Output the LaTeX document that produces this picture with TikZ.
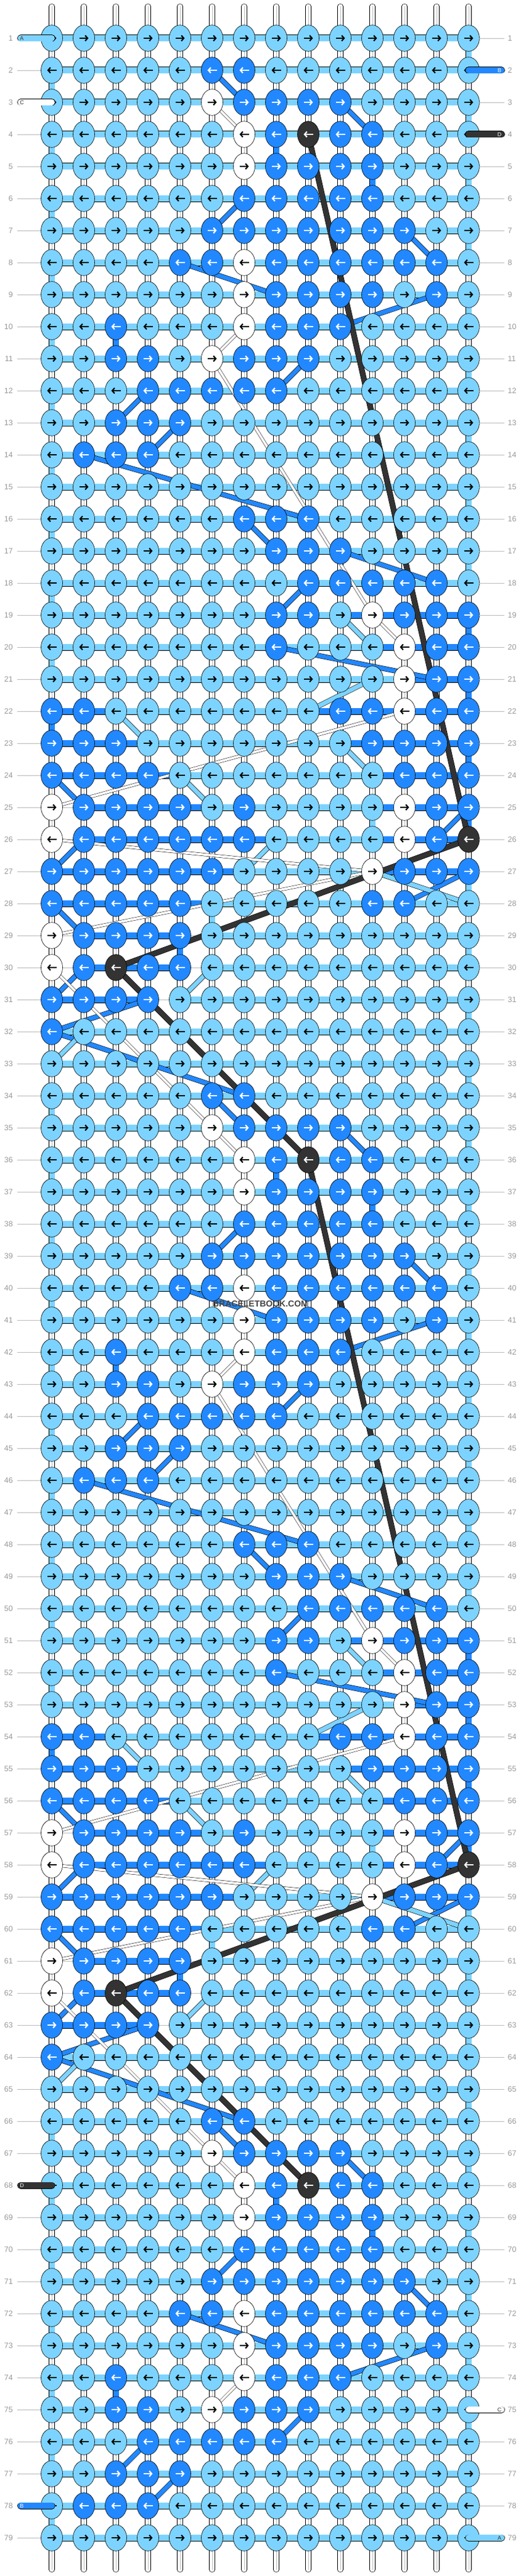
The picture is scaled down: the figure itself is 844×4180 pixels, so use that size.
\documentclass[tikz,border=0pt]{standalone}
\usepackage{fontspec}
\setmainfont{Liberation Sans}
\usetikzlibrary{shapes.geometric,arrows.meta}

\definecolor{cL}{HTML}{7DD3FF}
\definecolor{cD}{HTML}{2288FF}
\definecolor{cW}{HTML}{FFFFFF}
\definecolor{cK}{HTML}{333333}
\colorlet{aL}{black}
\colorlet{aD}{white}
\colorlet{aW}{black}
\colorlet{aK}{white}
\definecolor{numgray}{HTML}{999999}
\definecolor{linegray}{HTML}{BBBBBB}
\definecolor{wmgray}{HTML}{444444}

\newcommand{\knotrow}[2]{\expandafter\def\csname knots#1\endcsname{#2}}
\newcommand{\barrow}[2]{\expandafter\def\csname bars#1\endcsname{#2}}
\newcommand{\edgerow}[2]{\expandafter\def\csname edge#1\endcsname{#2}}

% knot colours of rows 1-33 (rows 34-79 repeat rows 2-33)
\knotrow{1}{L,L,L,L,L,L,L,L,L,L,L,L,L,L}
\knotrow{2}{L,L,L,L,L,D,D,L,L,L,L,L,L,L}
\knotrow{3}{L,L,L,L,L,W,D,D,D,D,L,L,L,L}
\knotrow{4}{L,L,L,L,L,L,W,D,K,D,D,L,L,L}
\knotrow{5}{L,L,L,L,L,L,W,D,D,D,D,L,L,L}
\knotrow{6}{L,L,L,L,L,L,D,D,D,D,D,L,L,L}
\knotrow{7}{L,L,L,L,L,D,D,D,D,D,D,D,L,L}
\knotrow{8}{L,L,L,L,D,D,W,D,D,D,D,D,D,L}
\knotrow{9}{L,L,L,L,L,L,W,D,D,D,D,L,D,L}
\knotrow{10}{L,L,D,L,L,L,W,D,D,D,L,L,L,L}
\knotrow{11}{L,L,D,D,L,W,D,D,D,L,L,L,L,L}
\knotrow{12}{L,L,L,D,D,D,D,D,L,L,L,L,L,L}
\knotrow{13}{L,L,D,D,D,L,L,L,L,L,L,L,L,L}
\knotrow{14}{L,D,D,D,L,L,L,L,L,L,L,L,L,L}
\knotrow{15}{L,L,L,L,L,L,L,L,L,L,L,L,L,L}
\knotrow{16}{L,L,L,L,L,L,D,D,D,L,L,L,L,L}
\knotrow{17}{L,L,L,L,L,L,L,D,D,D,L,L,L,L}
\knotrow{18}{L,L,L,L,L,L,L,L,D,D,D,D,D,L}
\knotrow{19}{L,L,L,L,L,L,L,D,D,L,W,D,D,D}
\knotrow{20}{L,L,L,L,L,L,L,D,L,L,L,W,D,D}
\knotrow{21}{L,L,L,L,L,L,L,L,L,L,L,W,D,D}
\knotrow{22}{D,D,L,L,L,L,L,L,L,D,D,W,D,D}
\knotrow{23}{D,D,D,L,L,L,L,L,L,L,D,D,D,D}
\knotrow{24}{D,D,D,D,L,L,L,L,L,L,L,D,D,D}
\knotrow{25}{W,D,D,D,D,L,D,L,L,L,L,W,D,D}
\knotrow{26}{W,D,D,D,D,D,D,L,L,L,L,W,D,K}
\knotrow{27}{D,D,D,D,D,D,L,L,L,L,W,D,D,D}
\knotrow{28}{D,D,D,D,D,L,L,L,L,L,D,D,L,L}
\knotrow{29}{W,D,D,D,D,L,L,L,L,L,L,L,L,L}
\knotrow{30}{W,D,K,D,D,L,L,L,L,L,L,L,L,L}
\knotrow{31}{D,D,D,D,L,L,L,L,L,L,L,L,L,L}
\knotrow{32}{D,L,L,L,L,L,L,L,L,L,L,L,L,L}
\knotrow{33}{L,L,L,L,L,L,L,L,L,L,L,L,L,L}

% threads between knots where they are not light blue
\barrow{19}{L,L,L,L,L,L,L,L,L,D,D,D,D}
\barrow{20}{L,L,L,L,L,L,L,L,L,L,D,D,D}
\barrow{21}{L,L,L,L,L,L,L,L,L,L,L,D,D}
\barrow{22}{D,D,L,L,L,L,L,L,D,D,D,D,D}
\barrow{23}{D,D,D,L,L,L,L,L,L,D,D,D,D}
\barrow{24}{D,D,D,D,L,L,L,L,L,L,D,D,D}
\barrow{25}{N,D,D,D,D,L,L,L,L,L,D,D,D}
\barrow{26}{N,D,D,D,D,D,D,L,L,L,D,D,D}
\barrow{27}{D,D,D,D,D,D,L,L,L,L,D,D,D}
\barrow{28}{D,D,D,D,D,L,L,L,L,L,L,L,L}
\barrow{29}{N,D,D,D,N,L,L,L,L,L,L,L,L}
\barrow{30}{N,D,D,D,N,L,L,L,L,L,L,L,L}
\barrow{31}{D,D,D,N,L,L,L,L,L,L,L,L,L}

% turns at the edge below a row
\edgerow{19}{D}
\edgerow{21}{D}
\edgerow{22}{D}
\edgerow{23}{D}
\edgerow{25}{D}
\edgerow{24}{N}
\edgerow{26}{N}
\edgerow{28}{N}
\edgerow{30}{N}
\edgerow{32}{N}

\begin{document}
\begin{tikzpicture}[x=1pt,y=-1pt,
		knot/.style={ellipse, draw=black, line width=.6pt, minimum width=35pt, minimum height=42.6pt, inner sep=0pt},
		hbar/.style={draw=black, line width=.6pt, double=#1, double distance=9.8pt},
		vbar/.style={draw=black, line width=.6pt, double=#1, double distance=9pt},
		basestr/.style={draw=black, line width=.6pt, double=white, double distance=8pt, line cap=round},
		thread/.style={draw=black, line width=.6pt, double=#1, double distance=7pt},
		darkthread/.style={draw=black, line width=.6pt, double=cK, double distance=8pt},
		whitethread/.style={draw=black, line width=.5pt, double=white, double distance=4pt},
		knotarrow/.style={line width=2.1pt, -{Straight Barb[length=4pt,width=9pt]}},
		rownum/.style={text=numgray, font=\fontsize{12.5}{12.5}\selectfont, inner sep=0pt},
		rowline/.style={draw=linegray, line width=.8pt},
		endletter/.style={font=\fontsize{9}{9}\selectfont, inner sep=0pt},
		]
		\useasboundingbox (0,0) rectangle (844,4180);
		
		%Grid points
		\foreach \r in {1,...,79}
			\foreach \cc in {1,...,14}
				\coordinate (p-\r-\cc) at ({84+52*(\cc-1)},{62+52*(\r-1)});
		
		%Base strings
		\foreach \cc in {1,...,14} {
			\coordinate (top-\cc) at ({84+52*(\cc-1)},10.5);
			\coordinate (bot-\cc) at ({84+52*(\cc-1)},4169.5);
			\draw[basestr] (top-\cc) -- (bot-\cc);
			\draw[linegray, line width=.7pt] (top-\cc) -- (bot-\cc);
		}
		
		%Turns at the edges
		\foreach \r in {1,...,78} {
			\pgfmathtruncatemacro\m{\r>65 ? \r-64 : (\r>33 ? \r-32 : \r)}
			\pgfmathtruncatemacro\rn{\r+1}
			\ifodd\r \def\ec{14}\else\def\ec{1}\fi
			\ifcsname edge\m\endcsname \edef\eb{\csname edge\m\endcsname}\else\def\eb{L}\fi
			\if N\eb\else \draw[vbar=c\eb] (p-\r-\ec) -- (p-\rn-\ec);\fi
		}
		% straight drops
		\foreach \ra/\cc/\vc in {4/8/D,5/11/D,10/3/D,29/5/D,25/11/L,28/6/L}
			\foreach \s in {0,32,64} {
				\pgfmathtruncatemacro\ta{\ra+\s}
				\pgfmathtruncatemacro\tb{\ra+\s+1}
				\ifnum\tb<80 \draw[vbar=c\vc] (p-\ta-\cc) -- (p-\tb-\cc);\fi
			}
		
		%Row threads
		\foreach \r in {1,...,79} {
			\pgfmathtruncatemacro\m{\r>65 ? \r-64 : (\r>33 ? \r-32 : \r)}
			\ifcsname bars\m\endcsname \edef\barlist{\csname bars\m\endcsname}\else\def\barlist{L,L,L,L,L,L,L,L,L,L,L,L,L}\fi
			\foreach \bc [count=\cc] in \barlist {
				\pgfmathtruncatemacro\cn{\cc+1}
				\if N\bc \draw[rowline] (p-\r-\cc) -- (p-\r-\cn);
				\else \draw[hbar=c\bc] (p-\r-\cc) -- (p-\r-\cn);\fi
			}
		}
		
		%Carried threads
		\foreach \ra/\ca/\rb/\cb in {2/6/3/7, 3/10/4/11, 6/7/7/6, 7/12/8/13, 8/5/9/8, 9/13/10/10, 12/8/11/9, 13/3/12/4, 14/4/13/5, 14/2/16/9, 16/7/17/8, 17/10/18/13, 18/9/19/8, 20/8/21/13, 24/1/25/2, 25/14/26/13, 27/1/26/2, 27/14/28/12, 28/1/29/2, 30/2/31/1, 32/1/31/4, 32/1/34/7}
			\foreach \s in {0,32,64} {
				\pgfmathtruncatemacro\ta{\ra+\s}
				\pgfmathtruncatemacro\tb{\rb+\s}
				\ifnum\ta<80 \ifnum\tb<80 \draw[thread=cD] (p-\ta-\ca) -- (p-\tb-\cb);\fi\fi
			}
		\foreach \ra/\ca/\rb/\cb in {19/10/20/11, 21/11/22/9, 22/3/23/4, 23/10/24/11, 24/5/25/6, 26/8/27/7, 27/11/28/14, 30/6/31/5, 32/2/33/1}
			\foreach \s in {0,32,64} {
				\pgfmathtruncatemacro\ta{\ra+\s}
				\pgfmathtruncatemacro\tb{\rb+\s}
				\ifnum\ta<80 \ifnum\tb<80 \draw[thread=cL] (p-\ta-\ca) -- (p-\tb-\cb);\fi\fi
			}
		\foreach \ra/\ca/\rb/\cb in {3/6/4/7, 10/7/11/6, 11/6/19/11, 19/11/20/12, 22/12/25/1, 26/1/27/11, 27/11/29/1, 30/1/35/6}
			\foreach \s in {0,32,64} {
				\pgfmathtruncatemacro\ta{\ra+\s}
				\pgfmathtruncatemacro\tb{\rb+\s}
				\ifnum\ta<80 \ifnum\tb<80 \draw[whitethread] (p-\ta-\ca) -- (p-\tb-\cb);\fi\fi
			}
		\foreach \ra/\ca/\rb/\cb in {4/9/26/14, 26/14/30/3, 30/3/36/9}
			\foreach \s in {0,32,64} {
				\pgfmathtruncatemacro\ta{\ra+\s}
				\pgfmathtruncatemacro\tb{\rb+\s}
				\ifnum\ta<80 \ifnum\tb<80 \draw[darkthread] (p-\ta-\ca) -- (p-\tb-\cb);\fi\fi
			}
		
		%Knots
		\foreach \r in {1,...,79} {
			\pgfmathtruncatemacro\m{\r>65 ? \r-64 : (\r>33 ? \r-32 : \r)}
			\edef\knotlist{\csname knots\m\endcsname}
			\ifodd\r \def\xa{-7.5pt}\def\xb{7.5pt}\else\def\xa{7.5pt}\def\xb{-7.5pt}\fi
			\foreach \kc [count=\cc] in \knotlist {
				\node[knot, fill=c\kc] (k-\r-\cc) at (p-\r-\cc) {};
				\draw[knotarrow, draw=a\kc] ([xshift=\xa]k-\r-\cc.center) -- ([xshift=\xb]k-\r-\cc.center);
			}
		}
		
		%Row numbers
		\foreach \r in {1,...,79} {
			\pgfmathsetmacro\y{62+52*(\r-1)}
			\node[rownum, anchor=east] (numl-\r) at (21,\y) {\r};
			\node[rownum, anchor=west] (numr-\r) at (823.5,\y) {\r};
			\draw[rowline] (27.5,\y) -- (66,\y);
			\draw[rowline] (777,\y) -- (818,\y);
		}
		
		%String ends
		\foreach \r/\cl/\lt/\tc in {1/cL/A/cK, 3/cW/C/cK, 68/cK/D/white, 78/cD/B/white} {
			\pgfmathsetmacro\y{62+52*(\r-1)}
			\coordinate (endl-\r) at (33.6,\y);
			\draw[hbar=\cl, line cap=round] (endl-\r) -- (p-\r-1);
			\node[endletter, text=\tc] (letl-\r) at (35.5,\y) {\lt};
		}
		\foreach \r/\cl/\lt/\tc in {2/cD/B/white, 4/cK/D/white, 75/cW/C/cK, 79/cL/A/cK} {
			\pgfmathsetmacro\y{62+52*(\r-1)}
			\coordinate (endr-\r) at (813.4,\y);
			\draw[hbar=\cl, line cap=round] (p-\r-14) -- (endr-\r);
			\node[endletter, text=\tc] (letr-\r) at (810,\y) {\lt};
		}
		
		% Watermark
		\node[font=\bfseries\fontsize{14}{14}\selectfont, text=wmgray, inner sep=0pt] (watermark) at (422.5,2116) {BRACELETBOOK.COM};
	\end{tikzpicture}
\end{document}
